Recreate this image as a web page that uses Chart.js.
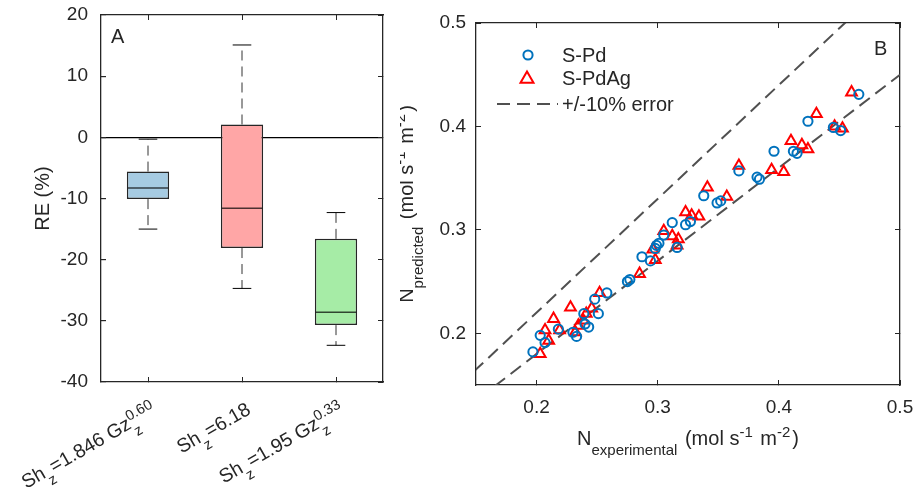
<!DOCTYPE html>
<html>
<head>
<meta charset="utf-8">
<script src="https://cdn.jsdelivr.net/npm/chart.js@4.4.0/dist/chart.umd.min.js"></script>
<style>
  body { margin: 0; background: #fff; }
  #wrap { position: relative; width: 914px; height: 502px; }
  canvas { position: absolute; top: 0; }
  #boxChart { left: 0; }
  #fitChart { left: 400px; }
</style>
</head>
<body>
<div id="wrap">
  <canvas id="boxChart" width="400" height="502"></canvas>
  <canvas id="fitChart" width="514" height="502"></canvas>
</div>
<script>
// Panel A: relative error of the three Sherwood correlations
const boxLabels = ['Sh_{z}=1.846 Gz_{z}^{0.60}', 'Sh_{z}=6.18', 'Sh_{z}=1.95 Gz_{z}^{0.33}'];
const whiskerHigh = [-0.3, 15.1, -12.3];
const upperQuartile = [-5.6, 2.1, -16.6];
const medians = [-8.3, -11.6, -28.6];
const lowerQuartile = [-10.1, -18.1, -30.7];
const whiskerLow = [-15.0, -24.7, -34.0];
const reTitle = 'RE (%)';

// Panel B: predicted vs experimental flux
const pdExp = [0.466, 0.424, 0.445, 0.451, 0.396, 0.412, 0.415, 0.367, 0.382, 0.384,
  0.338, 0.349, 0.352, 0.312, 0.323, 0.327, 0.305, 0.299, 0.298, 0.287, 0.294, 0.277,
  0.275, 0.316, 0.197, 0.258, 0.248, 0.239, 0.251, 0.203, 0.207, 0.230, 0.218, 0.243,
  0.240, 0.233, 0.301];
const pdPred = [0.431, 0.405, 0.399, 0.396, 0.376, 0.376, 0.374, 0.357, 0.351, 0.349,
  0.333, 0.326, 0.328, 0.307, 0.305, 0.308, 0.295, 0.285, 0.282, 0.274, 0.270, 0.252,
  0.250, 0.283, 0.182, 0.239, 0.233, 0.219, 0.219, 0.198, 0.191, 0.201, 0.204, 0.206,
  0.209, 0.197, 0.287];
const agExp = [0.460, 0.431, 0.446, 0.4525, 0.410, 0.419, 0.424, 0.367, 0.394, 0.404,
  0.341, 0.357, 0.323, 0.328, 0.334, 0.305, 0.312, 0.317, 0.316, 0.296, 0.298, 0.285,
  0.252, 0.228, 0.214, 0.241, 0.2455, 0.2386, 0.2345, 0.232, 0.219, 0.207, 0.210, 0.203];
const agPred = [0.433, 0.412, 0.400, 0.398, 0.386, 0.382, 0.378, 0.362, 0.358, 0.356,
  0.341, 0.332, 0.317, 0.314, 0.313, 0.299, 0.294, 0.291, 0.285, 0.281, 0.271, 0.2575,
  0.239, 0.225, 0.214, 0.219, 0.224, 0.2124, 0.2075, 0.201, 0.203, 0.203, 0.193, 0.180];
const errorLineX = [0.1, 0.5];
const plusTenY = [0.11, 0.55];
const minusTenY = [0.09, 0.45];
const nTicks = [0.2, 0.3, 0.4, 0.5];
const seriesNames = ['S-Pd', 'S-PdAg', '+/-10% error'];
const xTitle = 'N_{experimental} (mol s^{-1} m^{-2})';
const yTitle = 'N_{predicted} (mol s^{-1} m^{-2})';

const AX = '#262626';
const FONT = '"Liberation Sans", Arial, Helvetica, sans-serif';
const boxColors = ['#a6cbe2', '#ffa6a6', '#a6eca6'];

// split "a_{b}^{c}" into plain / sub / sup / stacked pieces
function parseRich(str) {
  const parts = [];
  const re = /([_^])\{([^}]*)\}/g;
  let last = 0, m;
  while ((m = re.exec(str))) {
    if (m.index > last) parts.push({ kind: 'n', t: str.slice(last, m.index) });
    const prev = parts[parts.length - 1];
    if (m[1] === '^' && prev && prev.kind === 'sub' && m.index === last) {
      prev.kind = 'stack';
      prev.sup = m[2];
    } else {
      parts.push({ kind: m[1] === '_' ? 'sub' : 'sup', t: m[2] });
    }
    last = re.lastIndex;
  }
  if (last < str.length) parts.push({ kind: 'n', t: str.slice(last) });
  return parts;
}

function drawRich(ctx, str, x, y, size, align, gap) {
  const parts = parseRich(str);
  const small = size * 0.75;
  const fnt = s => s + 'px ' + FONT;
  let w = 0;
  parts.forEach(p => {
    ctx.font = fnt(p.kind === 'n' ? size : small);
    p.w = ctx.measureText(p.t).width;
    if (p.kind === 'stack') p.w = Math.max(p.w, ctx.measureText(p.sup).width);
    if (p.kind !== 'n') p.w += gap;
    p.x = w;
    w += p.w;
  });
  const x0 = align === 'right' ? x - w : align === 'center' ? x - w / 2 : x;
  ctx.textAlign = 'left';
  ctx.textBaseline = 'alphabetic';
  parts.forEach(p => {
    const px = x0 + p.x;
    if (p.kind === 'n') {
      ctx.font = fnt(size);
      ctx.fillText(p.t, px, y);
      return;
    }
    ctx.font = fnt(small);
    if (p.kind === 'sub' || p.kind === 'stack') ctx.fillText(p.t, px, y + size * 0.5);
    if (p.kind === 'sup') ctx.fillText(p.t, px, y - size * 0.38);
    if (p.kind === 'stack') ctx.fillText(p.sup, px, y - size * 0.38);
  });
}

function seg(ctx, x1, y1, x2, y2) {
  ctx.beginPath();
  ctx.moveTo(x1, y1);
  ctx.lineTo(x2, y2);
  ctx.stroke();
}

// fixed axis size, and no extra room for label overhang
function fixSize(w, h) {
  return s => {
    if (w !== null) s.width = w;
    if (h !== null) s.height = h;
    s.paddingLeft = s.paddingRight = s.paddingTop = s.paddingBottom = 0;
  };
}

function frameAxis(extra) {
  return Object.assign({
    grid: { drawOnChartArea: false, tickLength: -5, color: AX, lineWidth: 1 },
    border: { color: AX, width: 1.3 }
  }, extra);
}

// whiskers, caps, medians and rotated labels for the box plot
const boxPlot = {
  id: 'boxPlot',
  afterDatasetsDraw(chart) {
    const { ctx, scales: { y } } = chart;
    const bars = chart.getDatasetMeta(0).data;
    ctx.save();
    bars.forEach((bar, i) => {
      const { x, width } = bar.getProps(['x', 'width'], true);
      const hi = y.getPixelForValue(whiskerHigh[i]);
      const lo = y.getPixelForValue(whiskerLow[i]);
      ctx.strokeStyle = '#333';
      ctx.lineWidth = 1;
      ctx.setLineDash([10, 6]);
      seg(ctx, x, y.getPixelForValue(upperQuartile[i]), x, hi);
      seg(ctx, x, y.getPixelForValue(lowerQuartile[i]), x, lo);
      ctx.setLineDash([]);
      ctx.strokeStyle = '#000';
      seg(ctx, x - width * 0.22, hi, x + width * 0.22, hi);
      seg(ctx, x - width * 0.22, lo, x + width * 0.22, lo);
      ctx.strokeStyle = 'rgba(0,0,0,0.7)';
      ctx.lineWidth = 1.5;
      const md = y.getPixelForValue(medians[i]);
      seg(ctx, x - width / 2 + 1, md, x + width / 2 - 1, md);
    });
    ctx.restore();
  },
  afterDraw(chart) {
    const { ctx, chartArea: a, scales: { x } } = chart;
    ctx.save();
    ctx.fillStyle = AX;
    boxLabels.forEach((lab, i) => {
      ctx.save();
      ctx.translate(x.getPixelForValue(i) + 10, a.bottom + 31);
      ctx.rotate(-Math.PI / 6);
      drawRich(ctx, lab, 0, 0, 19.5, 'right', 1);
      ctx.restore();
    });
    ctx.font = '20px ' + FONT;
    ctx.textAlign = 'left';
    ctx.fillText('A', a.left + 10, a.top + 28);
    ctx.restore();
  }
};

new Chart(document.getElementById('boxChart'), {
  type: 'bar',
  data: {
    labels: boxLabels,
    datasets: [{
      data: boxLabels.map((_, i) => [lowerQuartile[i], upperQuartile[i]]),
      backgroundColor: boxColors,
      borderColor: AX,
      borderWidth: 1.5,
      borderSkipped: false,
      barPercentage: 0.45,
      categoryPercentage: 1
    }]
  },
  options: {
    responsive: false,
    animation: false,
    events: [],
    layout: { padding: { left: 0, top: 15, right: 17, bottom: 0 } },
    plugins: { legend: { display: false }, tooltip: { enabled: false } },
    scales: {
      x: frameAxis({
        offset: true,
        grid: { offset: false, drawOnChartArea: false, tickLength: -5, color: AX },
        ticks: { display: false },
        afterFit: fixSize(null, 120)
      }),
      x2: frameAxis({
        axis: 'x', type: 'category', position: 'top', offset: true,
        grid: { offset: false, drawOnChartArea: false, tickLength: -5, color: AX },
        ticks: { display: false },
        afterFit: fixSize(null, 0)
      }),
      y: frameAxis({
        min: -40, max: 20,
        ticks: { stepSize: 10, padding: 18, color: AX, font: { family: FONT, size: 19 } },
        grid: {
          tickLength: -5,
          tickColor: AX,
          lineWidth: 1.2,
          color: c => (c.tick && c.tick.value === 0 ? '#000' : 'rgba(0,0,0,0)')
        },
        title: {
          display: true, text: reTitle, color: AX,
          font: { family: FONT, size: 20 }, padding: { top: 31, bottom: 0 }
        },
        afterFit: fixSize(101, null)
      }),
      y2: frameAxis({
        axis: 'y', position: 'right', min: -40, max: 20,
        ticks: { display: false, stepSize: 10 },
        afterFit: fixSize(0, null)
      })
    }
  },
  plugins: [boxPlot]
});

// titles with sub/superscripts, panel letter and legend for panel B
const fitDecor = {
  id: 'fitDecor',
  afterDraw(chart) {
    const { ctx, chartArea: a } = chart;
    const ds = chart.data.datasets;
    ctx.save();
    ctx.fillStyle = AX;
    drawRich(ctx, xTitle, (a.left + a.right) / 2, a.bottom + 60, 20, 'center', 2);
    ctx.save();
    ctx.translate(a.left - 63, (a.top + a.bottom) / 2);
    ctx.rotate(-Math.PI / 2);
    drawRich(ctx, yTitle, 0, 0, 20, 'center', 2);
    ctx.restore();
    ctx.font = '20px ' + FONT;
    ctx.textAlign = 'left';
    ctx.fillText('B', a.right - 26, a.top + 32);

    // legend
    ctx.fillText(seriesNames[0], a.left + 86, a.top + 39);
    ctx.fillText(seriesNames[1], a.left + 86, a.top + 62);
    ctx.fillText(seriesNames[2], a.left + 86, a.top + 87.5);
    ctx.lineWidth = 2;
    ctx.strokeStyle = ds[0].borderColor;
    ctx.beginPath();
    ctx.arc(a.left + 52, a.top + 32, 4.6, 0, Math.PI * 2);
    ctx.stroke();
    const tx = a.left + 51, ty = a.top + 56, r = 7.5;
    ctx.strokeStyle = ds[1].borderColor;
    ctx.beginPath();
    for (let k = 0; k < 3; k++) {
      const ang = k * 2 * Math.PI / 3;
      const px = tx + Math.sin(ang) * r, py = ty - Math.cos(ang) * r;
      if (k === 0) ctx.moveTo(px, py); else ctx.lineTo(px, py);
    }
    ctx.closePath();
    ctx.stroke();
    ctx.strokeStyle = ds[2].borderColor;
    ctx.setLineDash(ds[2].borderDash);
    seg(ctx, a.left + 21, a.top + 81, a.left + 82, a.top + 81);
    ctx.restore();
  }
};

const nTickAxis = extra => frameAxis(Object.assign({
  type: 'linear', min: 0.15, max: 0.5,
  afterBuildTicks: s => { s.ticks = nTicks.map(v => ({ value: v })); }
}, extra));

new Chart(document.getElementById('fitChart'), {
  type: 'scatter',
  data: {
    datasets: [{
      label: seriesNames[0],
      data: pdExp.map((x, i) => ({ x, y: pdPred[i] })),
      pointStyle: 'circle',
      pointRadius: 4.6,
      pointBorderWidth: 2,
      borderColor: '#0072bd',
      backgroundColor: 'rgba(0,0,0,0)'
    }, {
      label: seriesNames[1],
      data: agExp.map((x, i) => ({ x, y: agPred[i] })),
      pointStyle: 'triangle',
      pointRadius: 6.2,
      pointBorderWidth: 2,
      borderColor: '#ff0000',
      backgroundColor: 'rgba(0,0,0,0)'
    }, {
      label: seriesNames[2],
      data: errorLineX.map((x, i) => ({ x, y: plusTenY[i] })),
      showLine: true, pointRadius: 0, clip: 0,
      borderColor: '#505050', borderWidth: 2, borderDash: [13, 7]
    }, {
      label: '',
      data: errorLineX.map((x, i) => ({ x, y: minusTenY[i] })),
      showLine: true, pointRadius: 0, clip: 0,
      borderColor: '#505050', borderWidth: 2, borderDash: [13, 7]
    }]
  },
  options: {
    responsive: false,
    animation: false,
    events: [],
    layout: { padding: { left: 0, top: 23, right: 14, bottom: 0 } },
    plugins: { legend: { display: false }, tooltip: { enabled: false } },
    scales: {
      x: nTickAxis({
        ticks: { padding: 16, color: AX, font: { family: FONT, size: 19 }, callback: v => v.toFixed(1) },
        afterFit: fixSize(null, 117)
      }),
      x2: nTickAxis({
        axis: 'x', position: 'top',
        ticks: { display: false },
        afterFit: fixSize(null, 0)
      }),
      y: nTickAxis({
        ticks: { padding: 15, color: AX, font: { family: FONT, size: 19 }, callback: v => v.toFixed(1) },
        afterFit: fixSize(76, null)
      }),
      y2: nTickAxis({
        axis: 'y', position: 'right',
        ticks: { display: false },
        afterFit: fixSize(0, null)
      })
    }
  },
  plugins: [fitDecor]
});
</script>
</body>
</html>
